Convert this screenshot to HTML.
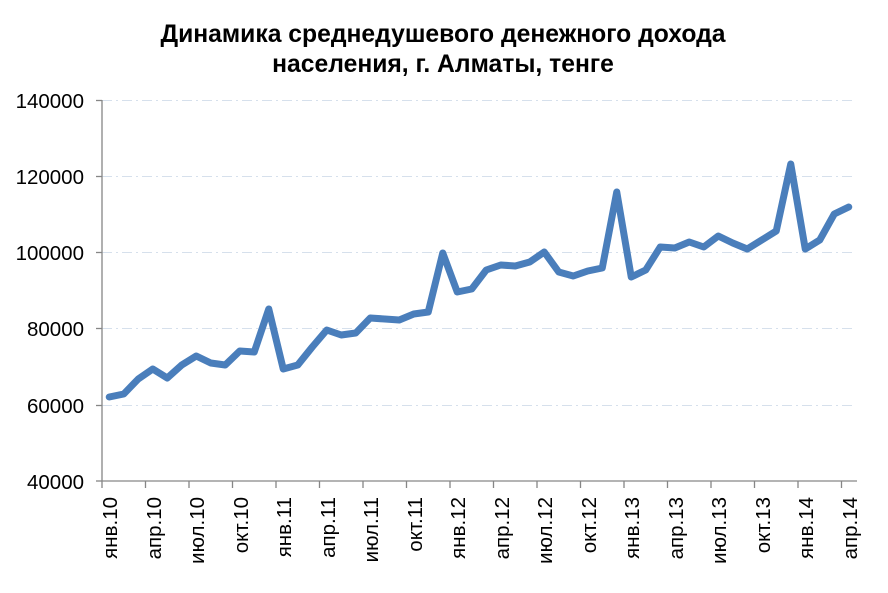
<!DOCTYPE html>
<html><head><meta charset="utf-8"><style>html,body{margin:0;padding:0;background:#fff}svg{display:block}</style></head>
<body>
<svg width="888" height="593" viewBox="0 0 888 593" xmlns="http://www.w3.org/2000/svg" font-family="Liberation Sans, Arial, sans-serif">
<rect width="888" height="593" fill="#fff"/>
<text x="443" y="42" text-anchor="middle" font-size="24.7" font-weight="bold">Динамика среднедушевого денежного дохода</text>
<text x="443" y="72" text-anchor="middle" font-size="24.7" font-weight="bold">населения, г. Алматы, тенге</text>
<g stroke="#d6e0ec" stroke-width="1" stroke-dasharray="10,4,2,4">
<line x1="102" y1="100.5" x2="856" y2="100.5"/>
<line x1="102" y1="176.5" x2="856" y2="176.5"/>
<line x1="102" y1="252.5" x2="856" y2="252.5"/>
<line x1="102" y1="328.5" x2="856" y2="328.5"/>
<line x1="102" y1="405.5" x2="856" y2="405.5"/>
</g>
<g stroke="#868686" stroke-width="1.3" fill="none">
<line x1="102" y1="100" x2="102" y2="481"/>
<line x1="102" y1="481" x2="857" y2="481"/>
<line x1="96" y1="100.5" x2="102" y2="100.5"/>
<line x1="96" y1="176.5" x2="102" y2="176.5"/>
<line x1="96" y1="252.5" x2="102" y2="252.5"/>
<line x1="96" y1="328.5" x2="102" y2="328.5"/>
<line x1="96" y1="405.5" x2="102" y2="405.5"/>
<line x1="96" y1="481" x2="102" y2="481"/>
<path d="M102 481v7M145.5 481v7M189 481v7M232.5 481v7M276 481v7M319.5 481v7M363 481v7M406.5 481v7M450 481v7M493.5 481v7M537 481v7M580.5 481v7M624 481v7M667.5 481v7M711 481v7M754.5 481v7M798 481v7M841.5 481v7"/>
</g>
<g font-size="20.5" text-anchor="end" fill="#000">
<text x="84" y="108">140000</text>
<text x="84" y="184">120000</text>
<text x="84" y="260">100000</text>
<text x="84" y="336">80000</text>
<text x="84" y="413">60000</text>
<text x="84" y="489">40000</text>
</g>
<g font-size="20.5" text-anchor="end" fill="#000">
<text transform="translate(117,497) rotate(-90)">янв.10</text>
<text transform="translate(161,497) rotate(-90)">апр.10</text>
<text transform="translate(204,497) rotate(-90)">июл.10</text>
<text transform="translate(248,497) rotate(-90)">окт.10</text>
<text transform="translate(291,497) rotate(-90)">янв.11</text>
<text transform="translate(335,497) rotate(-90)">апр.11</text>
<text transform="translate(378,497) rotate(-90)">июл.11</text>
<text transform="translate(422,497) rotate(-90)">окт.11</text>
<text transform="translate(465,497) rotate(-90)">янв.12</text>
<text transform="translate(509,497) rotate(-90)">апр.12</text>
<text transform="translate(552,497) rotate(-90)">июл.12</text>
<text transform="translate(596,497) rotate(-90)">окт.12</text>
<text transform="translate(639,497) rotate(-90)">янв.13</text>
<text transform="translate(683,497) rotate(-90)">апр.13</text>
<text transform="translate(726,497) rotate(-90)">июл.13</text>
<text transform="translate(770,497) rotate(-90)">окт.13</text>
<text transform="translate(813,497) rotate(-90)">янв.14</text>
<text transform="translate(857,497) rotate(-90)">апр.14</text>
</g>
<polyline fill="none" stroke="#4a7ebb" stroke-width="7" stroke-linejoin="round" stroke-linecap="round" points="
109.25,397 123.75,394 138.25,379 152.75,369 167.25,378 181.75,365 196.25,356 210.75,363 225.25,365 239.75,351 254.25,352 268.75,309
283.25,369 297.75,365 312.25,347 326.75,330 341.25,335 355.75,333 370.25,318 384.75,319 399.25,320 413.75,314 428.25,312 442.75,253
457.25,292 471.75,289 486.25,270 500.75,265 515.25,266 529.75,262 544.25,252 558.75,272 573.25,276 587.75,271 602.25,268 616.75,192
631.25,277 645.75,270 660.25,247 674.75,248 689.25,242 703.75,247 718.25,236 732.75,243 747.25,249 761.75,240 776.25,231 790.75,164
805.25,249 819.75,240 834.25,214 848.75,207"/>
</svg>
</body></html>
